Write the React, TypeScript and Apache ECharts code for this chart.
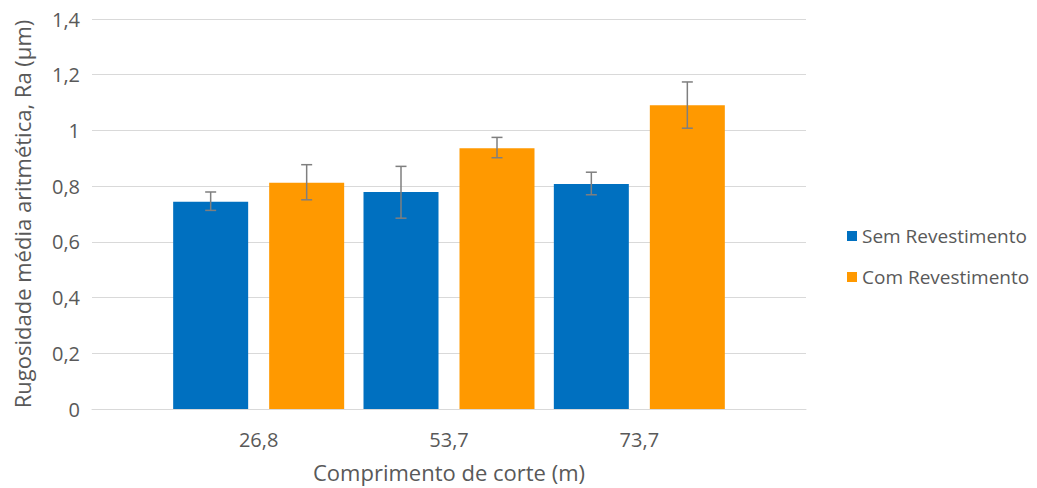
import React, { useEffect, useRef } from "react";
import * as echarts from "echarts";

const categories = ["26,8", "53,7", "73,7"];
const seriesNames = ["Sem Revestimento", "Com Revestimento"];
const semValues = [0.744, 0.779, 0.808];
const comValues = [0.812, 0.936, 1.09];
const semLow = [0.713, 0.685, 0.769];
const semHigh = [0.779, 0.871, 0.85];
const comLow = [0.751, 0.902, 1.008];
const comHigh = [0.877, 0.975, 1.174];
const yTicks = { min: 0, max: 1.4, interval: 0.2 };

const FONT = "Open Sans";
const TXT = "#595959";
const GRIDC = "#d9d9d9";

function fmt(v: number): string {
  if (Math.abs(v - Math.round(v)) < 1e-9) return String(Math.round(v));
  return v.toFixed(1).replace(".", ",");
}

function errorSeries(low: number[], high: number[], offset: number) {
  return {
    type: "custom",
    xAxisIndex: 1,
    yAxisIndex: 1,
    silent: true,
    z: 10,
    encode: { x: 0, y: [1, 2] },
    data: low.map((l, i) => [i, l, high[i]]),
    renderItem: (params: any, api: any) => {
      const i = api.value(0);
      const lo = api.coord([i, api.value(1)]);
      const hi = api.coord([i, api.value(2)]);
      const x = lo[0] + offset;
      const cap = 5.5;
      const style = { stroke: "#7f7f7f", lineWidth: 1.5 };
      return {
        type: "group",
        children: [
          { type: "line", shape: { x1: x, y1: lo[1], x2: x, y2: hi[1] }, style },
          { type: "line", shape: { x1: x - cap, y1: lo[1], x2: x + cap, y2: lo[1] }, style },
          { type: "line", shape: { x1: x - cap, y1: hi[1], x2: x + cap, y2: hi[1] }, style },
        ],
      };
    },
  };
}

export default function App() {
  const ref = useRef<HTMLDivElement>(null);
  useEffect(() => {
    if (!ref.current) return;
    const chart = echarts.init(ref.current, null, { renderer: "svg" });
    chart.setOption({
      animation: false,
      backgroundColor: "#ffffff",
      textStyle: { fontFamily: FONT },
      legend: {
        orient: "vertical",
        left: 842,
        top: 221,
        itemWidth: 10,
        itemHeight: 10,
        itemGap: 21,
        icon: "rect",
        data: seriesNames,
        textStyle: { fontFamily: FONT, fontSize: 19, color: TXT, lineHeight: 20 },
      },
      grid: [
        { left: 92, right: 1037 - 806, top: 19, bottom: 488 - 409, outerBoundsMode: "none" },
        { left: 163.5, right: 1037 - 734.5, top: 19, bottom: 488 - 409, outerBoundsMode: "none" },
      ],
      xAxis: [
        {
          type: "value",
          gridIndex: 0,
          min: 0,
          max: 1,
          axisLine: { show: true, lineStyle: { color: GRIDC, width: 1 } },
          axisTick: { show: false },
          axisLabel: { show: false },
          splitLine: { show: false },
        },
        {
          type: "category",
          gridIndex: 1,
          data: categories,
          axisLine: { show: false },
          axisTick: { show: false },
          axisLabel: { color: TXT, fontSize: 20, fontFamily: FONT, margin: 20 },
          name: "Comprimento de corte (m)",
          nameLocation: "middle",
          nameGap: 52,
          nameTextStyle: { color: TXT, fontSize: 22, fontFamily: FONT },
        },
      ],
      yAxis: [
        {
          type: "value",
          gridIndex: 0,
          min: yTicks.min,
          max: yTicks.max,
          interval: yTicks.interval,
          axisLine: { show: false },
          axisTick: { show: false },
          axisLabel: { color: TXT, fontSize: 20, fontFamily: FONT, margin: 12, formatter: fmt },
          splitLine: { show: true, lineStyle: { color: GRIDC, width: 1 } },
          name: "Rugosidade média aritmética, Ra (μm)",
          nameLocation: "middle",
          nameGap: 59,
          nameTextStyle: { color: TXT, fontSize: 22, fontFamily: FONT },
        },
        {
          type: "value",
          gridIndex: 1,
          min: yTicks.min,
          max: yTicks.max,
          interval: yTicks.interval,
          show: false,
          splitLine: { show: false },
        },
      ],
      series: [
        {
          name: seriesNames[0],
          type: "bar",
          xAxisIndex: 1,
          yAxisIndex: 1,
          data: semValues,
          barWidth: 75,
          barGap: "28%",
          itemStyle: { color: "#0070c0" },
        },
        {
          name: seriesNames[1],
          type: "bar",
          xAxisIndex: 1,
          yAxisIndex: 1,
          data: comValues,
          barWidth: 75,
          barGap: "28%",
          itemStyle: { color: "#ff9900" },
        },
        errorSeries(semLow, semHigh, -48),
        errorSeries(comLow, comHigh, 48),
      ],
    });
    return () => chart.dispose();
  }, []);
  return <div ref={ref} style={{ width: 1037, height: 488, position: "absolute", left: 0, top: 0 }} />;
}
